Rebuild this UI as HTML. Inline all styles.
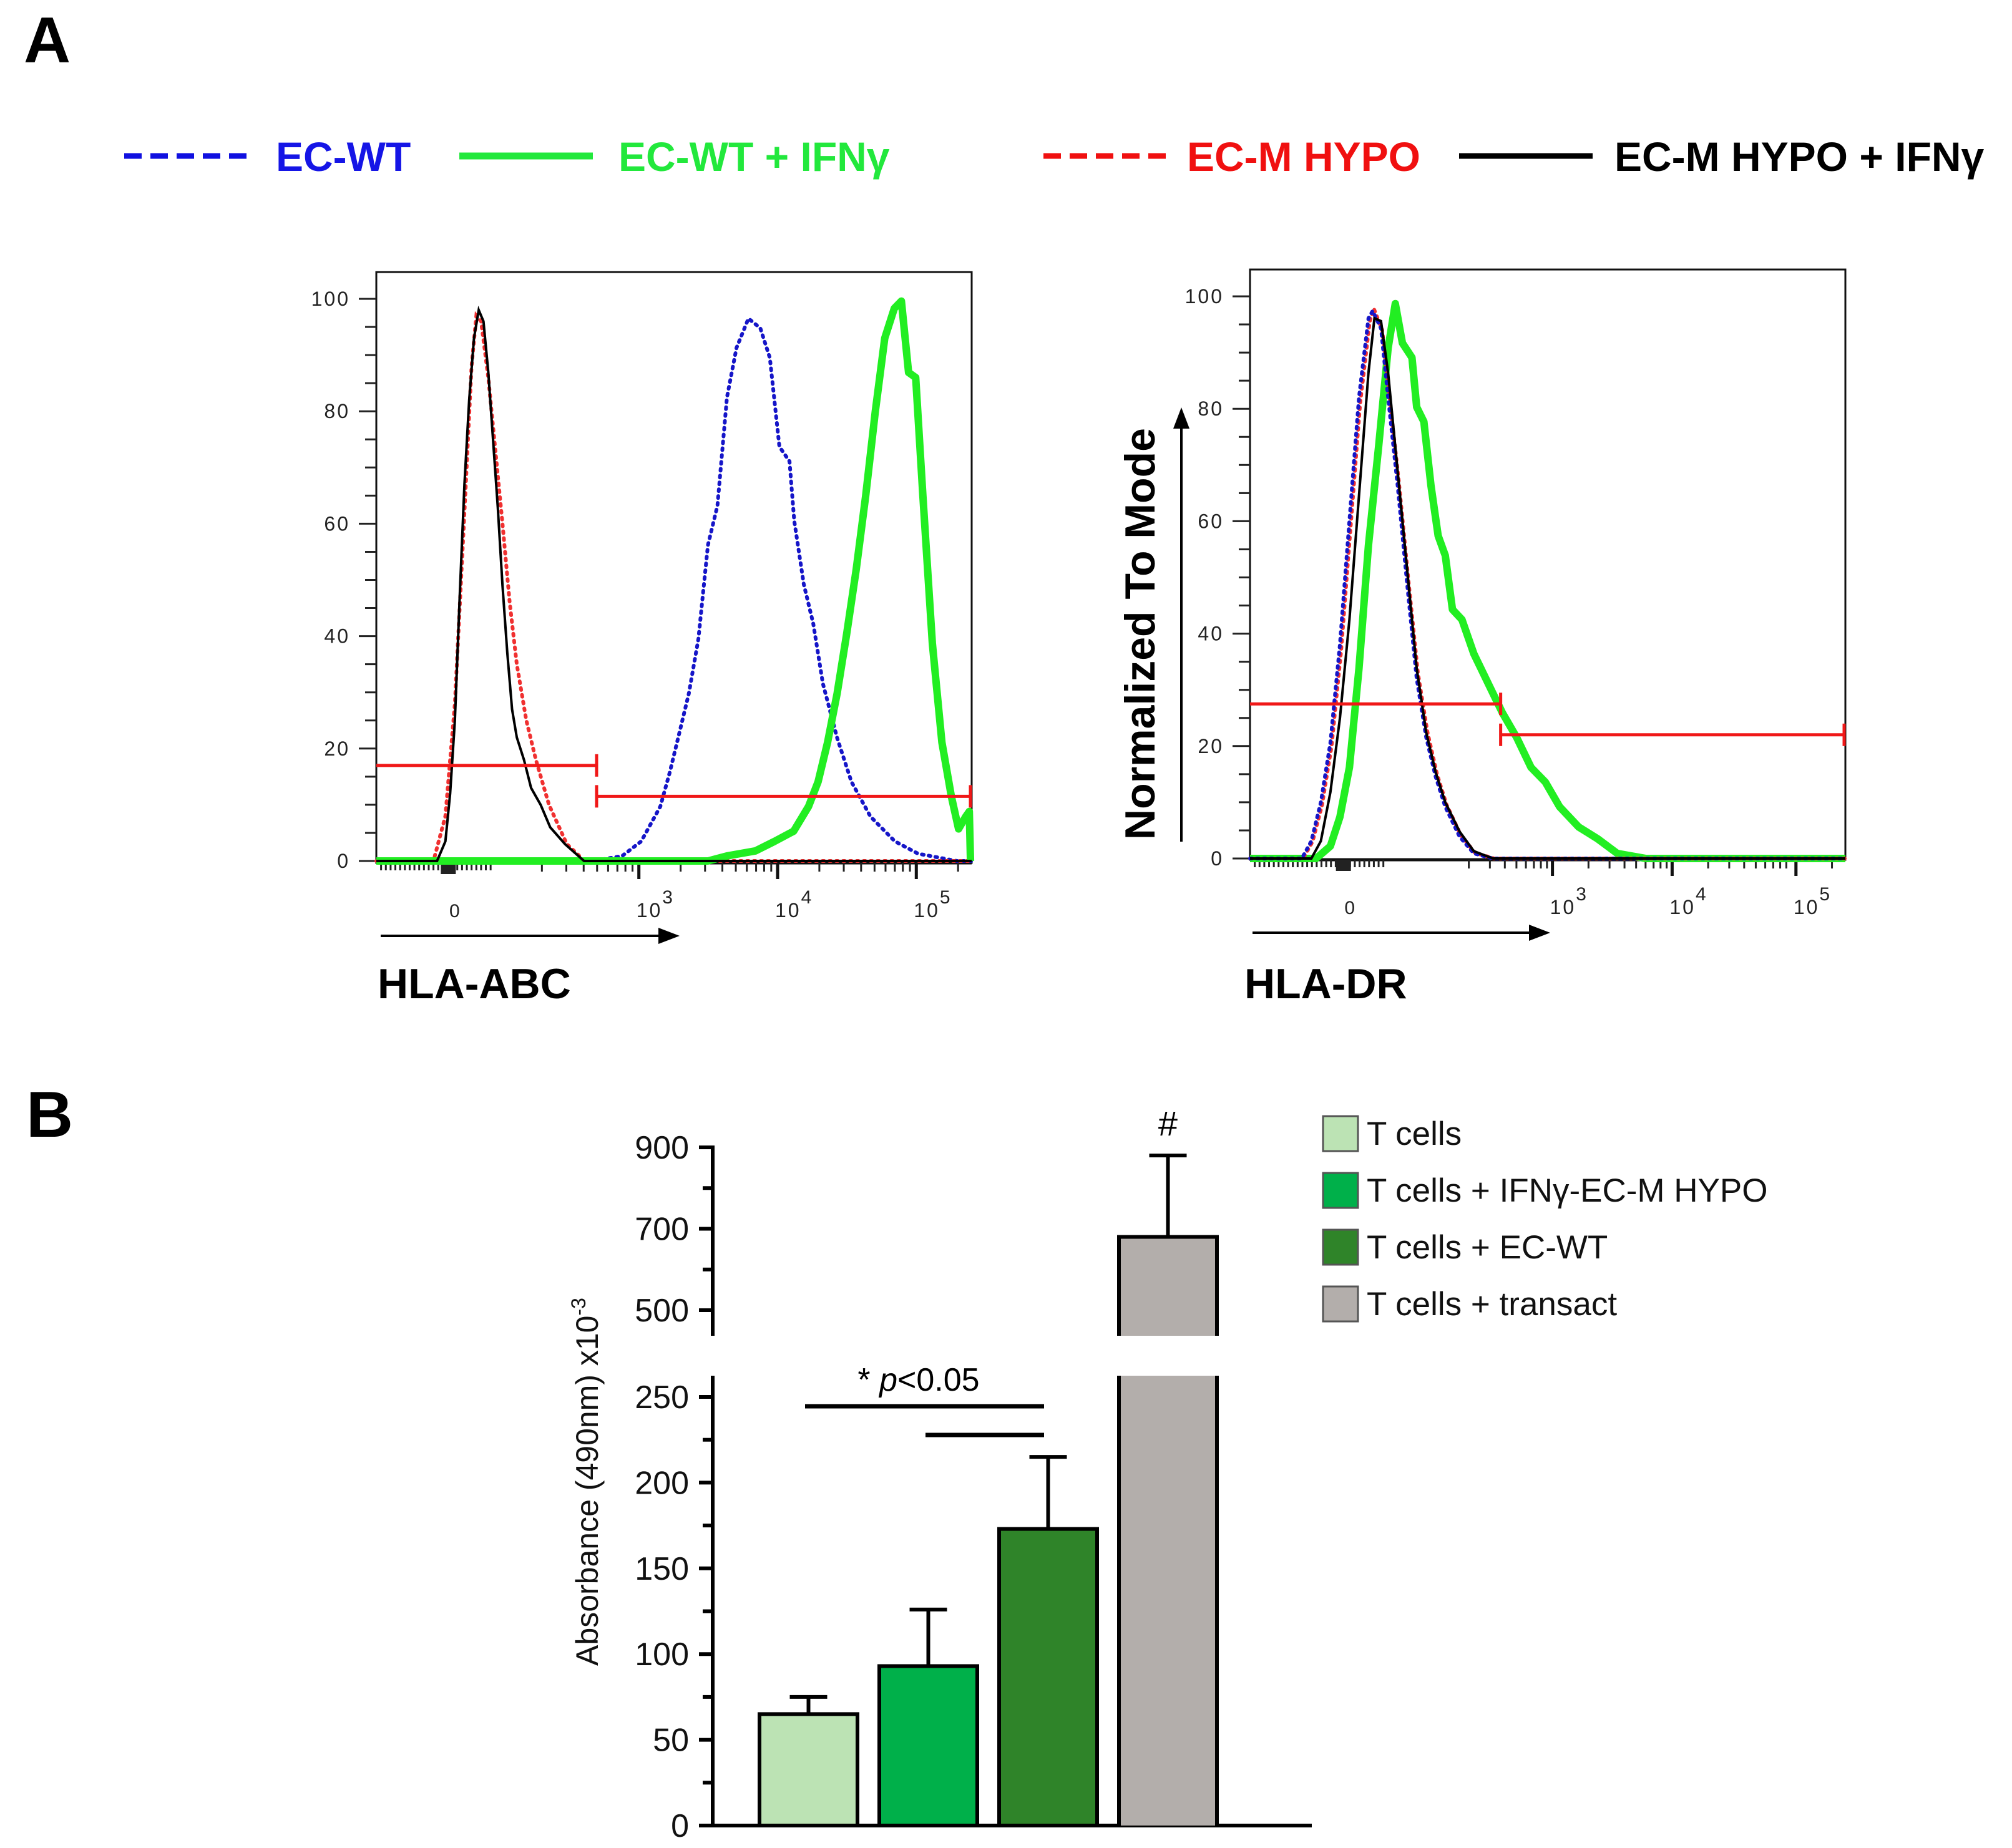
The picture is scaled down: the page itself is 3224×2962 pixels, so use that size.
<!DOCTYPE html>
<html><head><meta charset="utf-8"><style>
html,body{margin:0;padding:0;background:#fff}
svg{display:block}
text{font-family:"Liberation Sans",sans-serif}
</style></head><body>
<svg id="fig" width="3224" height="2962" viewBox="0 0 3224 2962" xmlns="http://www.w3.org/2000/svg">
<text x="38" y="100" font-size="104" font-weight="bold">A</text>
<text x="42" y="1822" font-size="104" font-weight="bold">B</text>
<g font-size="66" font-weight="bold">
 <g><line x1="199" y1="250" x2="403" y2="250" stroke="#1010e0" stroke-width="9" stroke-dasharray="28 14"/><text x="442" y="274" fill="#1515e6">EC-WT</text></g>
 <g><line x1="736" y1="250" x2="950" y2="250" stroke="#22e83c" stroke-width="11"/><text x="991" y="274" fill="#22e83c">EC-WT + IFNγ</text></g>
 <g><line x1="1672" y1="250" x2="1875" y2="250" stroke="#f01010" stroke-width="9" stroke-dasharray="28 14"/><text x="1902" y="274" fill="#f01010">EC-M HYPO</text></g>
 <g><line x1="2338" y1="250" x2="2552" y2="250" stroke="#000" stroke-width="9"/><text x="2587" y="274" fill="#000">EC-M HYPO + IFNγ</text></g>
</g>
<g id="h1"></g>
<g id="h2"></g>
<g id="bars"></g>
</svg>
<script>
// ---------- Histogram data (x in channel units 0..1000 across plot, y in % of mode) ----------
const h1BlackX=[0,102,116,124,132,140,148,156,164,172,180,188,196,204,212,220,228,236,248,260,276,292,317,349,1000];
const h1BlackY=[0,0,3.5,12,25,47,67,82,93,98,96,87,75,63,49,37,27,22,18,13,10,6,3,0,0];
const h1RedX=[0,96,116,132,148,160,168,176,188,200,212,224,236,252,268,290,320,350,1000];
const h1RedY=[0,0,8,28,62,88,97,96,86,73,60,46,35,25,18,10,3,0,0];
const h1BlueX=[0,365,413,445,477,493,509,525,541,557,573,589,605,625,645,661,677,694,702,718,734,750,774,798,830,871,910,975,1000];
const h1BlueY=[0,0,0.9,3.5,9.7,15.8,22.8,29.8,39.5,56.2,63.2,82.5,91.3,96.5,94.8,89.5,73.7,71.1,60.5,49.2,42.2,31.6,21.9,14.1,7.9,3.5,1.3,0,0];
const h1GreenX=[0,557,589,637,669,701,726,742,758,774,790,806,822,838,854,870,882,894,906,918,934,950,966,978,990,996,998];
const h1GreenY=[0,0,0.9,1.8,3.5,5.3,9.7,14.1,21.1,29.8,40.4,51.8,65,79.9,93,98.3,99.6,86.9,86,65,38.7,21.1,11.4,5.7,7.9,8.8,0];
const h1Gates=[[0,370,17],[370,1000,11.5]];
const h1Decades=[441,674,907];
const h1Zero=123;

const h2BlackX=[0,103,119,135,151,167,183,199,209,220,232,248,264,280,296,312,328,352,376,408,1000];
const h2BlackY=[0,0,3.1,11.8,25,42.5,64.5,86.4,96.1,95.6,86.4,68.9,51.3,33.8,22.4,15.3,10,4.8,1.3,0,0];
const h2BlueX=[0,87,103,119,135,151,167,183,199,206,220,232,248,264,280,296,312,328,352,376,408,1000];
const h2BlueY=[0,0,3.1,10,20.6,38.1,60.1,82,96.1,97.4,94.3,82,66.3,48.7,32,21.5,14.5,9.2,3.9,0.9,0,0];
const h2RedX=[0,89,105,121,137,153,169,185,201,208,222,234,250,266,282,298,314,330,354,378,410,1000];
const h2RedY=[0,0,3,9.5,20,37,59,81,95.5,97.8,94,82.5,67,49.5,33,22.5,15,9.6,4.2,1,0,0];
const h2GreenX=[0,111,135,151,167,183,199,216,232,244,256,272,280,292,304,316,328,340,356,376,392,408,424,448,472,496,520,552,584,617,665,1000];
const h2GreenY=[0,0,2.2,7.4,16.2,33.8,55.7,73.3,90.8,98.7,91.7,89.1,80.3,77.7,66.3,57.4,53.9,44.3,42.5,36.4,32.9,29.4,25.9,21.5,16.2,13.6,9.2,5.6,3.5,0.9,0,0];
const h2Gates=[[0,421,27.5],[421,1000,22]];
const h2Decades=[508,709,917];
const h2Zero=159;

const yTicks=[0,20,40,60,80,100];
const decadeLabels=["3","4","5"];

// ---------- Bar chart data ----------
const barCategories=["T cells","T cells + IFNγ-EC-M HYPO","T cells + EC-WT","T cells + transact"];
const barValues=[65,93,173,680];
const barErrors=[75,126,215,880];
const barColors=["#bce3b4","#00b04a","#2f8429","#b3aeab"];
const lowTicks=[0,50,100,150,200,250];
const highTicks=[500,700,900];

const NS="http://www.w3.org/2000/svg";
function mk(tag,attrs,parent){const e=document.createElementNS(NS,tag);for(const k in attrs)e.setAttribute(k,attrs[k]);parent.appendChild(e);return e;}

function histogram(g,cfg){
  const L=cfg.left,R=cfg.left+954,T=cfg.top,B=cfg.bottom;
  const sx=c=>L+c/1000*(R-L);
  const sy=v=>cfg.y0-v*cfg.k;
  const fr=mk('rect',{x:L,y:T,width:R-L,height:B-T,fill:'none',stroke:'#111','stroke-width':3},g);
  
  
  mk('line',{x1:L,y1:B,x2:R,y2:B,stroke:'#111','stroke-width':5},g);
  for(let v=0;v<=100;v+=5){
    const major=v%20===0;
    mk('line',{x1:L-(major?28:18),y1:sy(v),x2:L,y2:sy(v),stroke:'#222','stroke-width':3},g);
  }
  yTicks.forEach(v=>{
    const t=mk('text',{x:L-42,y:sy(v)+11,'font-size':32,'text-anchor':'end',fill:'#222','letter-spacing':3},g);
    t.textContent=v;
    
    
  });
  for(let c=8;c<cfg.zero+70;c+=8){mk('line',{x1:sx(c),y1:B,x2:sx(c),y2:B+12,stroke:'#222','stroke-width':3},g);}
  mk('rect',{x:sx(cfg.zero)-14,y:B,width:24,height:18,fill:'#222'},g);
  const step=cfg.decades[1]-cfg.decades[0];
  for(let d=-1;d<3;d++){
    const base=d<0?cfg.decades[0]-step:cfg.decades[d];
    for(let m=2;m<=9;m++){const c=base+Math.log10(m)*step;if(c>cfg.zero+70&&c<1000)mk('line',{x1:sx(c),y1:B,x2:sx(c),y2:B+14,stroke:'#222','stroke-width':3},g);}
  }
  cfg.decades.forEach((c,i)=>{
    mk('line',{x1:sx(c),y1:B,x2:sx(c),y2:B+26,stroke:'#111','stroke-width':5},g);
    const t=mk('text',{x:sx(c)-4,y:B+87,'font-size':32,fill:'#222','letter-spacing':3},g);
    t.innerHTML='10<tspan dy="-22" font-size="30">'+decadeLabels[i]+'</tspan>';
    
    
  });
  const z=mk('text',{x:sx(cfg.zero)+8,y:B+87,'font-size':30,'text-anchor':'middle',fill:'#222'},g);
  z.textContent='0';
  
  
  const line=(xs,ys,st,name)=>{
    const p=mk('polyline',{points:xs.map((x,i)=>sx(x).toFixed(1)+','+sy(ys[i]).toFixed(1)).join(' '),fill:'none'},g);
    for(const k in st)p.setAttribute(k,st[k]);
    
    
  };
  cfg.series.forEach(s=>line(s[0],s[1],s[2],s[3]));
  cfg.gates.forEach((gt,i)=>{
    const gg=mk('g',{},g);
    
    
    mk('line',{x1:sx(gt[0]),y1:sy(gt[2]),x2:sx(gt[1]),y2:sy(gt[2]),stroke:'#f01818','stroke-width':5},gg);
    if(i===0) mk('line',{x1:sx(gt[1]),y1:sy(gt[2])-18,x2:sx(gt[1]),y2:sy(gt[2])+18,stroke:'#f01818','stroke-width':5},gg);
    else {mk('line',{x1:sx(gt[0]),y1:sy(gt[2])-18,x2:sx(gt[0]),y2:sy(gt[2])+18,stroke:'#f01818','stroke-width':5},gg);
          mk('line',{x1:sx(gt[1])-2,y1:sy(gt[2])-18,x2:sx(gt[1])-2,y2:sy(gt[2])+18,stroke:'#f01818','stroke-width':5},gg);}
  });
  mk('line',{x1:cfg.arrow[0],y1:cfg.arrow[2],x2:cfg.arrow[1]-30,y2:cfg.arrow[2],stroke:'#000','stroke-width':4},g);
  mk('polygon',{points:`${cfg.arrow[1]},${cfg.arrow[2]} ${cfg.arrow[1]-34},${cfg.arrow[2]-13} ${cfg.arrow[1]-34},${cfg.arrow[2]+13}`,fill:'#000'},g);
  const xl=mk('text',{x:cfg.xlabelX,y:1600,'font-size':68,'font-weight':'bold'},g);
  xl.textContent=cfg.xlabel;
  
  
}
const sBlue={stroke:'#1515c8','stroke-width':6,'stroke-dasharray':'3 8','stroke-linecap':'round'};
const sRed={stroke:'#f03030','stroke-width':6,'stroke-dasharray':'3 8','stroke-linecap':'round'};
const sBlack={stroke:'#000','stroke-width':4};
const sGreen={stroke:'#22ee22','stroke-width':12,'stroke-linejoin':'round'};
histogram(document.getElementById('h1'),{left:603,top:436,bottom:1383,y0:1380,k:9.01,zero:h1Zero,decades:h1Decades,gates:h1Gates,
  arrow:[610,1089,1500],xlabel:'HLA-ABC',xlabelX:605,
  series:[[h1BlueX,h1BlueY,sBlue,'ec-wt-curve'],[h1RedX,h1RedY,sRed,'ec-m-hypo-curve'],[h1GreenX,h1GreenY,sGreen,'ec-wt-ifn-curve'],[h1BlackX,h1BlackY,sBlack,'ec-m-hypo-ifn-curve']]});
histogram(document.getElementById('h2'),{left:2003,top:432,bottom:1378,y0:1376,k:9.01,zero:h2Zero,decades:h2Decades,gates:h2Gates,
  arrow:[2007,2484,1495],xlabel:'HLA-DR',xlabelX:1994,
  series:[[h2GreenX,h2GreenY,sGreen,'ec-wt-ifn-curve'],[h2RedX,h2RedY,sRed,'ec-m-hypo-curve'],[h2BlueX,h2BlueY,sBlue,'ec-wt-curve'],[h2BlackX,h2BlackY,sBlack,'ec-m-hypo-ifn-curve']]});
(function(){
  const g=document.getElementById('h2');
  mk('line',{x1:1893,y1:1349,x2:1893,y2:680,stroke:'#000','stroke-width':4},g);
  mk('polygon',{points:'1893,653 1880,687 1906,687',fill:'#000'},g);
  const t=mk('text',{x:0,y:0,'font-size':68,'font-weight':'bold','text-anchor':'middle',transform:'translate(1850,1016) rotate(-90)'},g);
  t.textContent='Normalized To Mode';
  
  
})();

// ---------- Bar chart ----------
(function(){
  const g=document.getElementById('bars');
  const AX=1142;
  const yLow=v=>2926-v*2.748;
  const yHigh=v=>1839+(900-v)*0.6525;
  const LOW_TOP=2205, HIGH_BOT=2141;
  mk('line',{x1:AX,y1:2928,x2:AX,y2:LOW_TOP,stroke:'#000','stroke-width':6},g);
  mk('line',{x1:AX,y1:HIGH_BOT,x2:AX,y2:1836,stroke:'#000','stroke-width':6},g);
  mk('line',{x1:AX-3,y1:2926,x2:2102,y2:2926,stroke:'#000','stroke-width':6},g);
  for(let v=25;v<=225;v+=50) mk('line',{x1:AX-16,y1:yLow(v),x2:AX,y2:yLow(v),stroke:'#000','stroke-width':6},g);
  [600,800].forEach(v=>mk('line',{x1:AX-16,y1:yHigh(v),x2:AX,y2:yHigh(v),stroke:'#000','stroke-width':6},g));
  const lab=(v,y)=>{
    mk('line',{x1:AX-22,y1:y,x2:AX,y2:y,stroke:'#000','stroke-width':6},g);
    const t=mk('text',{x:1104,y:y+18,'font-size':52,'text-anchor':'end',fill:'#111'},g);
    t.textContent=v;
    
    
  };
  lowTicks.forEach(v=>lab(v,yLow(v)));
  highTicks.forEach(v=>lab(v,yHigh(v)));
  const yt=mk('text',{x:0,y:0,'font-size':50,'text-anchor':'middle',fill:'#111',transform:'translate(958,2375) rotate(-90)'},g);
  yt.innerHTML='Absorbance (490nm) x10<tspan dy="-20" font-size="32">-3</tspan>';
  
  
  const bx=i=>1217+i*192, BW=157;
  barValues.forEach((v,i)=>{
    const r=mk('g',{},g);
    
    
    const cx=bx(i)+BW/2;
    if(v<=262){
      mk('rect',{x:bx(i),y:yLow(v),width:BW,height:2926-yLow(v),fill:barColors[i],stroke:'#000','stroke-width':6},r);
      const e=barErrors[i];
      mk('line',{x1:cx,y1:yLow(v),x2:cx,y2:yLow(e),stroke:'#000','stroke-width':6},r);
      mk('line',{x1:cx-30,y1:yLow(e),x2:cx+30,y2:yLow(e),stroke:'#000','stroke-width':6},r);
    } else {
      mk('rect',{x:bx(i),y:LOW_TOP,width:BW,height:2926-LOW_TOP,fill:barColors[i]},r);
      mk('line',{x1:bx(i),y1:LOW_TOP,x2:bx(i),y2:2926,stroke:'#000','stroke-width':6},r);
      mk('line',{x1:bx(i)+BW,y1:LOW_TOP,x2:bx(i)+BW,y2:2926,stroke:'#000','stroke-width':6},r);
      const yt2=yHigh(v);
      mk('rect',{x:bx(i),y:yt2,width:BW,height:HIGH_BOT-yt2,fill:barColors[i]},r);
      mk('path',{d:`M${bx(i)},${HIGH_BOT} V${yt2} H${bx(i)+BW} V${HIGH_BOT}`,fill:'none',stroke:'#000','stroke-width':6},r);
      const e=barErrors[i];
      mk('line',{x1:cx,y1:yt2,x2:cx,y2:yHigh(e),stroke:'#000','stroke-width':6},r);
      mk('line',{x1:cx-30,y1:yHigh(e),x2:cx+30,y2:yHigh(e),stroke:'#000','stroke-width':6},r);
      const h=mk('text',{x:cx,y:1820,'font-size':56,'text-anchor':'middle'},r);
      h.textContent='#';
    }
  });
  mk('line',{x1:1290,y1:2254,x2:1673,y2:2254,stroke:'#000','stroke-width':7},g);
  mk('line',{x1:1483,y1:2300,x2:1673,y2:2300,stroke:'#000','stroke-width':7},g);
  const st=mk('text',{x:1472,y:2229,'font-size':52,'text-anchor':'middle'},g);
  st.innerHTML='* <tspan font-style="italic">p</tspan>&lt;0.05';
  
  
  barCategories.forEach((c,i)=>{
    const y=1789+i*91;
    const lg=mk('g',{},g);
    
    
    mk('rect',{x:2120,y:y,width:56,height:56,fill:barColors[i],stroke:'#555','stroke-width':3},lg);
    const t=mk('text',{x:2190,y:y+46,'font-size':53,fill:'#111'},lg);
    t.textContent=c;
  });
})();
</script>
</body></html>
